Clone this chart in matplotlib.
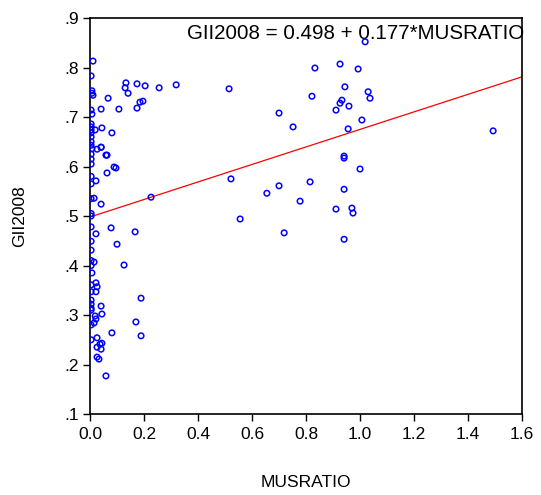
import numpy as np
import matplotlib
matplotlib.use("Agg")
import matplotlib.pyplot as plt
from matplotlib.ticker import FuncFormatter

plt.rcParams["font.family"] = ["Liberation Sans", "DejaVu Sans"]

# ─────────────────────────────────────────────
# DATA
# ─────────────────────────────────────────────
musratio = [
    # points sitting on / near zero
    0.011, 0.004, 0.007, 0.007, 0.011, 0.004, 0.007, 0.004, 0.004, 0.004,
    0.004, 0.004, 0.004, 0.004, 0.007, 0.004, 0.004, 0.004, 0.004, 0.004,
    0.004, 0.004, 0.004, 0.004, 0.004, 0.004, 0.004, 0.004, 0.007, 0.004,
    0.004, 0.004, 0.004, 0.004, 0.004, 0.004, 0.004,
    # slightly off zero
    0.019, 0.044, 0.041, 0.067, 0.063, 0.041, 0.107, 0.081, 0.026, 0.041,
    0.059, 0.089, 0.096, 0.022, 0.063, 0.015, 0.041, 0.022, 0.078, 0.100,
    0.015, 0.126, 0.022, 0.026, 0.022, 0.041, 0.044, 0.019, 0.022, 0.015,
    0.081, 0.026, 0.044, 0.037, 0.026, 0.041, 0.026, 0.033, 0.059,
    # 0.1 - 0.35
    0.133, 0.130, 0.141, 0.174, 0.204, 0.256, 0.319, 0.185, 0.196, 0.174,
    0.226, 0.167, 0.189, 0.170, 0.189,
    # right cluster
    0.515, 0.833, 0.926, 0.944, 0.822, 0.933, 0.926, 0.911, 0.700, 0.752,
    0.956, 0.941, 0.941, 0.522, 0.700, 0.815, 0.655, 0.778, 0.941, 0.911,
    0.556, 0.719, 0.941, 1.019, 0.993, 1.030, 1.037, 0.959, 1.007, 1.493,
    1.000, 0.970, 0.974,
]
gii2008 = [
    0.813, 0.783, 0.753, 0.748, 0.744, 0.714, 0.706, 0.686, 0.680, 0.674,
    0.668, 0.660, 0.650, 0.643, 0.636, 0.625, 0.615, 0.605, 0.580, 0.565,
    0.535, 0.505, 0.500, 0.478, 0.449, 0.431, 0.410, 0.400, 0.385, 0.361,
    0.347, 0.330, 0.322, 0.314, 0.310, 0.280, 0.250,
    0.674, 0.678, 0.716, 0.738, 0.623, 0.639, 0.716, 0.668, 0.635, 0.639,
    0.623, 0.599, 0.597, 0.571, 0.587, 0.536, 0.524, 0.464, 0.476, 0.443,
    0.407, 0.401, 0.365, 0.357, 0.347, 0.318, 0.302, 0.298, 0.292, 0.284,
    0.264, 0.254, 0.243, 0.241, 0.235, 0.231, 0.215, 0.211, 0.177,
    0.769, 0.759, 0.748, 0.767, 0.763, 0.759, 0.765, 0.730, 0.732, 0.718,
    0.538, 0.468, 0.334, 0.286, 0.258,
    0.757, 0.799, 0.807, 0.761, 0.742, 0.734, 0.728, 0.714, 0.708, 0.680,
    0.676, 0.621, 0.617, 0.575, 0.561, 0.569, 0.546, 0.530, 0.554, 0.514,
    0.494, 0.466, 0.453, 0.852, 0.797, 0.751, 0.738, 0.722, 0.694, 0.672,
    0.595, 0.516, 0.506,
]

intercept = 0.498
slope = 0.177

x_ticks = [0.0, 0.2, 0.4, 0.6, 0.8, 1.0, 1.2, 1.4, 1.6]
y_ticks = [0.1, 0.2, 0.3, 0.4, 0.5, 0.6, 0.7, 0.8, 0.9]

# ─────────────────────────────────────────────
# PLOT
# ─────────────────────────────────────────────
fig = plt.figure(figsize=(5.41, 4.95), dpi=100)
ax = fig.add_axes([0.1664, 0.1636, 0.7985, 0.8000])

ax.scatter(musratio, gii2008, s=16, facecolors="none", edgecolors="#0000ff",
           linewidths=1.1, zorder=3)

xl = np.array([0.0, 1.6])
ax.plot(xl, intercept + slope * xl, color="#ff0000", lw=0.9, zorder=2)

ax.set_xlim(0.0, 1.6)
ax.set_ylim(0.1, 0.9)
ax.set_xticks(x_ticks)
ax.set_yticks(y_ticks)
ax.xaxis.set_major_formatter(FuncFormatter(lambda v, p: f"{v:.1f}"))
ax.yaxis.set_major_formatter(FuncFormatter(lambda v, p: f"{v:.1f}".lstrip("0")))
ax.tick_params(axis="both", direction="out", length=5, width=1, labelsize=12.5,
               colors="black", pad=3)
ax.tick_params(axis="x", pad=4)

for sp in ax.spines.values():
    sp.set_linewidth(1.2)
    sp.set_color("black")

ax.set_xlabel("MUSRATIO", fontsize=12.5, labelpad=24)
ax.set_ylabel("GII2008", fontsize=12.5, labelpad=27)

ax.text(1.006, 0.962, f"GII2008 = {intercept:.3f} + {slope:.3f}*MUSRATIO",
        transform=ax.transAxes, ha="right", va="center", fontsize=14.8,
        clip_on=False, zorder=1)

fig.savefig("out.png", dpi=100)
